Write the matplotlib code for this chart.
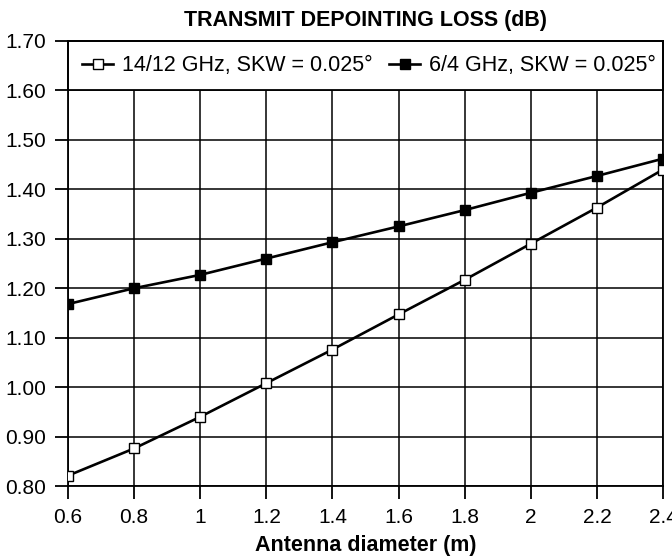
import matplotlib
matplotlib.use("Agg")
import matplotlib.pyplot as plt
from matplotlib.patches import Rectangle

plt.rcParams['font.family'] = ['Liberation Sans', 'DejaVu Sans']

diameter = [0.6, 0.8, 1.0, 1.2, 1.4, 1.6, 1.8, 2.0, 2.2, 2.4]
loss_ku = [0.821, 0.876, 0.940, 1.008, 1.076, 1.147, 1.217, 1.290, 1.363, 1.440]
loss_c = [1.168, 1.200, 1.227, 1.260, 1.293, 1.325, 1.358, 1.393, 1.427, 1.462]

x_ticks = [0.6, 0.8, 1.0, 1.2, 1.4, 1.6, 1.8, 2.0, 2.2, 2.4]
x_labels = ["0.6", "0.8", "1", "1.2", "1.4", "1.6", "1.8", "2", "2.2", "2.4"]
y_ticks = [0.80, 0.90, 1.00, 1.10, 1.20, 1.30, 1.40, 1.50, 1.60, 1.70]

fig = plt.figure(figsize=(6.72, 5.6), dpi=100)
ax = fig.add_axes([0.1012, 0.1321, 0.8854, 0.7947])

ax.plot(diameter, loss_ku, color="black", lw=1.9, marker="s", ms=6.5,
        mfc="white", mec="black", mew=1.0, label="14/12 GHz, SKW = 0.025°", zorder=3)
ax.plot(diameter, loss_c, color="black", lw=1.9, marker="s", ms=6.5,
        mfc="black", mec="black", label="6/4 GHz, SKW = 0.025°", zorder=3)

ax.set_xlim(0.6, 2.4)
ax.set_ylim(0.80, 1.70)
ax.set_xticks(x_ticks)
ax.set_xticklabels(x_labels)
ax.set_yticks(y_ticks)
ax.set_yticklabels(["%.2f" % v for v in y_ticks])
ax.tick_params(axis="both", labelsize=15, length=9.5, width=1.3, direction="out",
               color="black", pad=6)
ax.grid(True, color="black", lw=1.1)
ax.set_axisbelow(True)
for s in ax.spines.values():
    s.set_linewidth(1.3)
    s.set_color("black")

ax.set_title("TRANSMIT DEPOINTING LOSS (dB)", fontsize=15.5, fontweight="bold", pad=11)
ax.set_xlabel("Antenna diameter (m)", fontsize=15.5, fontweight="bold", labelpad=6)

# white band behind the legend, between the 1.60 gridline and the top
ax.add_patch(Rectangle((0, 0.8889), 1, 0.1111, transform=ax.transAxes,
                       facecolor="white", edgecolor="black", lw=1.3, zorder=2,
                       clip_on=False))

leg = ax.legend(loc="center left", bbox_to_anchor=(0, 0.9444), ncol=2,
                fontsize=15.5, frameon=False, borderaxespad=0, borderpad=0.65,
                handlelength=1.45, handletextpad=0.42, columnspacing=0.75)
leg.set_zorder(5)

fig.savefig("out.png", dpi=100)
